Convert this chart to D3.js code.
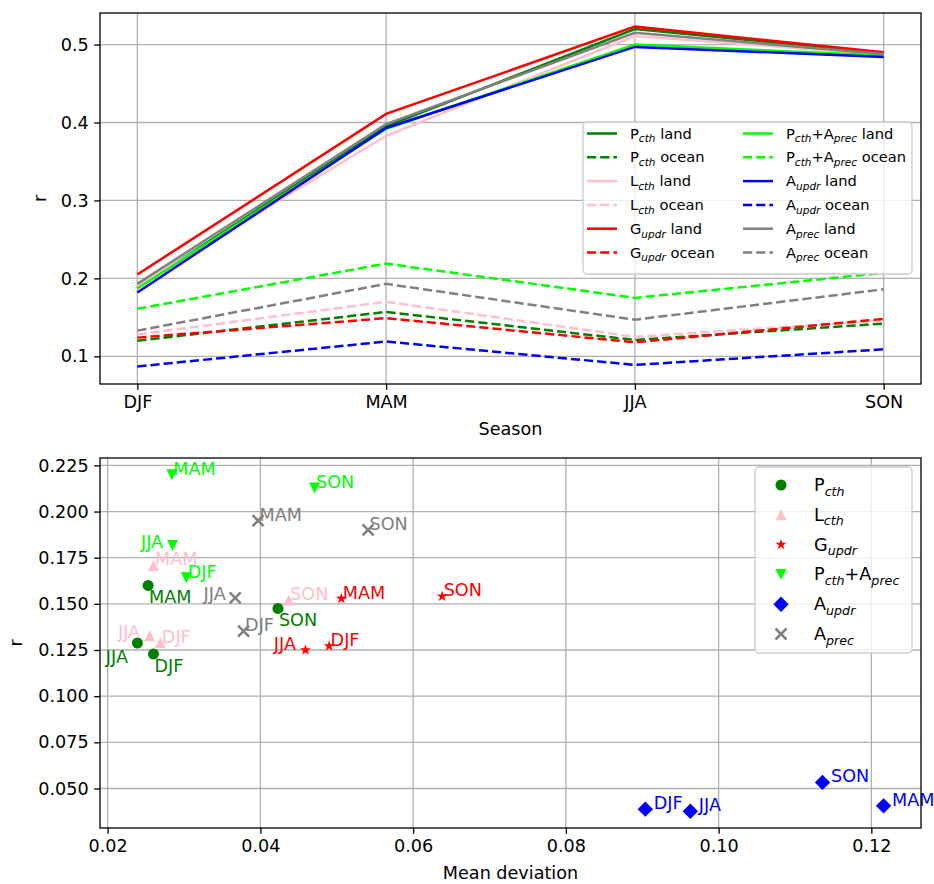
<!DOCTYPE html>
<html>
<head>
<meta charset="utf-8">
<script src="https://cdn.jsdelivr.net/npm/d3@7"></script>
<style>
  body { margin: 0; background: #fff; }
  text { font-family: "DejaVu Sans", sans-serif; fill: #000; }
</style>
</head>
<body>
<svg id="chart" width="934" height="884"></svg>
<script>
// ---- data ----
const seasons = ['DJF', 'MAM', 'JJA', 'SON'];
const methods = ['P_{cth}', 'L_{cth}', 'G_{updr}', 'P_{cth}+A_{prec}', 'A_{updr}', 'A_{prec}'];
const colors = ['green', 'pink', 'red', 'lime', 'blue', 'gray'];
const markers = ['circle', 'triUp', 'star', 'triDown', 'diamond', 'x'];

// correlation r per season (DJF, MAM, JJA, SON), one row per method
const landR = [
  [0.188, 0.395, 0.520, 0.489],
  [0.190, 0.383, 0.511, 0.487],
  [0.205, 0.411, 0.523, 0.490],
  [0.187, 0.392, 0.500, 0.486],
  [0.182, 0.393, 0.497, 0.484],
  [0.193, 0.398, 0.515, 0.488]
];
const oceanR = [
  [0.120, 0.157, 0.121, 0.142],
  [0.128, 0.170, 0.125, 0.146],
  [0.124, 0.149, 0.118, 0.148],
  [0.161, 0.219, 0.175, 0.207],
  [0.087, 0.119, 0.089, 0.109],
  [0.133, 0.193, 0.147, 0.186]
];

// scatter: mean deviation and r per season (DJF, MAM, JJA, SON)
const meanDev = [
  [0.0260, 0.0253, 0.0239, 0.0423],
  [0.0269, 0.0260, 0.0255, 0.0437],
  [0.0490, 0.0506, 0.0459, 0.0638],
  [0.0303, 0.0284, 0.0285, 0.0471],
  [0.0904, 0.1216, 0.0963, 0.1136],
  [0.0378, 0.0397, 0.0367, 0.0541]
];
const scatterR = [
  [0.1228, 0.1600, 0.1288, 0.1475],
  [0.1289, 0.1708, 0.1327, 0.1520],
  [0.1272, 0.1529, 0.1250, 0.1541],
  [0.1642, 0.2199, 0.1816, 0.2127],
  [0.0388, 0.0406, 0.0377, 0.0533],
  [0.1352, 0.1951, 0.1532, 0.1901]
];

// axis limits and ticks
const topYLim = [0.0645, 0.5405];
const topYTicks = [0.1, 0.2, 0.3, 0.4, 0.5];
const botXLim = [0.019, 0.1265];
const botYLim = [0.0286, 0.229];
const botXTicks = [0.02, 0.04, 0.06, 0.08, 0.10, 0.12];
const botYTicks = [0.05, 0.075, 0.1, 0.125, 0.15, 0.175, 0.2, 0.225];

// ---- setup ----
const FS = 17.6;
const svg = d3.select('#chart');
const lw = 2.5;

// write mathtext-like label: "P_{cth} land" -> P with italic subscript
function mathText(sel, str, size) {
  const parts = str.split(/_\{([^}]*)\}/);
  let shifted = false;
  parts.forEach((p, i) => {
    if (p === '') return;
    const t = sel.append('tspan').text(p);
    if (i % 2 === 1) {
      t.attr('font-size', size * 0.72).attr('font-style', 'italic')
        .attr('dy', shifted ? null : size * 0.26);
      shifted = true;
    } else {
      t.attr('font-size', size);
      if (shifted) { t.attr('dy', -size * 0.26); shifted = false; }
    }
  });
}

function markerPath(type, s) {
  const p = d3.path();
  if (type === 'circle') { p.arc(0, 0, s, 0, 2 * Math.PI); }
  else if (type === 'triUp') { p.moveTo(0, -s); p.lineTo(s, s); p.lineTo(-s, s); p.closePath(); }
  else if (type === 'triDown') { p.moveTo(0, s); p.lineTo(s, -s); p.lineTo(-s, -s); p.closePath(); }
  else if (type === 'diamond') { const d = s * 1.4; p.moveTo(0, -d); p.lineTo(d, 0); p.lineTo(0, d); p.lineTo(-d, 0); p.closePath(); }
  else if (type === 'star') {
    const ro = s * 1.05, ri = ro * 0.382;
    for (let k = 0; k < 10; k++) {
      const r = k % 2 ? ri : ro, a = -Math.PI / 2 + k * Math.PI / 5;
      k ? p.lineTo(r * Math.cos(a), r * Math.sin(a)) : p.moveTo(r * Math.cos(a), r * Math.sin(a));
    }
    p.closePath();
  }
  else if (type === 'x') { p.moveTo(-s, -s); p.lineTo(s, s); p.moveTo(-s, s); p.lineTo(s, -s); }
  return p.toString();
}

function drawMarker(g, type, color, x, y) {
  const path = g.append('path').attr('d', markerPath(type, 5.5))
    .attr('transform', `translate(${x},${y})`);
  if (type === 'x') path.attr('fill', 'none').attr('stroke', color).attr('stroke-width', 2.5);
  else path.attr('fill', color);
}

function frame(g, w, h) {
  g.append('rect').attr('width', w).attr('height', h)
    .attr('fill', 'none').attr('stroke', '#000').attr('stroke-width', 1.3);
}

// ---- top panel: r by season ----
const topBox = { left: 100, top: 13, width: 821, height: 371 };
const gTop = svg.append('g').attr('transform', `translate(${topBox.left},${topBox.top})`);

// point scale with matplotlib-like 5% margins
const xTop = d3.scalePoint().domain(seasons)
  .range([topBox.width * 0.15 / 3.3, topBox.width * 3.15 / 3.3]).padding(0);
const yTop = d3.scaleLinear().domain(topYLim).range([topBox.height, 0]);

// grid
gTop.append('g').selectAll('line').data(seasons).join('line')
  .attr('x1', d => xTop(d)).attr('x2', d => xTop(d)).attr('y1', 0).attr('y2', topBox.height)
  .attr('stroke', '#b0b0b0').attr('stroke-width', 1.3);
gTop.append('g').selectAll('line').data(topYTicks).join('line')
  .attr('x1', 0).attr('x2', topBox.width).attr('y1', d => yTop(d)).attr('y2', d => yTop(d))
  .attr('stroke', '#b0b0b0').attr('stroke-width', 1.3);

// axes
const xAxisTop = gTop.append('g').attr('transform', `translate(0,${topBox.height})`)
  .call(d3.axisBottom(xTop).tickSize(5.8).tickPadding(5.5));
const yAxisTop = gTop.append('g')
  .call(d3.axisLeft(yTop).tickValues(topYTicks).tickFormat(d3.format('.1f')).tickSize(5.8).tickPadding(5.5));

// lines
const line = d3.line().x((d, i) => xTop(seasons[i])).y(d => yTop(d));
methods.forEach((m, i) => {
  gTop.append('path').datum(landR[i]).attr('d', line)
    .attr('fill', 'none').attr('stroke', colors[i]).attr('stroke-width', lw);
  gTop.append('path').datum(oceanR[i]).attr('d', line)
    .attr('fill', 'none').attr('stroke', colors[i]).attr('stroke-width', lw)
    .attr('stroke-dasharray', '9.2,4');
});
frame(gTop, topBox.width, topBox.height);

// top legend
const legTop = gTop.append('g').attr('transform', `translate(${583 - topBox.left},${122 - topBox.top})`);
legTop.append('rect').attr('width', 329).attr('height', 152).attr('rx', 4)
  .attr('fill', 'rgba(255,255,255,0.8)').attr('stroke', '#cccccc').attr('stroke-width', 1.3);
const legItems = [];
methods.forEach((m, i) => {
  legItems.push({ label: m + ' land', color: colors[i], dash: null });
  legItems.push({ label: m + ' ocean', color: colors[i], dash: '9.2,4' });
});
legItems.forEach((d, k) => {
  const col = Math.floor(k / 6), row = k % 6;
  const gx = col === 0 ? 4 : 160, gy = 11.5 + row * 23.8;
  legTop.append('line').attr('x1', gx).attr('x2', gx + 30).attr('y1', gy).attr('y2', gy)
    .attr('stroke', d.color).attr('stroke-width', lw).attr('stroke-dasharray', d.dash);
  const t = legTop.append('text').attr('x', gx + 43).attr('y', gy + 5);
  mathText(t, d.label, FS * 0.833);
});

// labels
svg.append('text').attr('x', topBox.left + topBox.width / 2).attr('y', topBox.top + topBox.height + 51)
  .attr('text-anchor', 'middle').attr('font-size', FS).text('Season');
svg.append('text').attr('transform', `translate(46,${topBox.top + topBox.height / 2}) rotate(-90)`)
  .attr('text-anchor', 'middle').attr('font-size', FS).text('r');

// ---- bottom panel: scatter ----
const botBox = { left: 100, top: 458, width: 821, height: 370 };
const gBot = svg.append('g').attr('transform', `translate(${botBox.left},${botBox.top})`);
const xBot = d3.scaleLinear().domain(botXLim).range([0, botBox.width]);
const yBot = d3.scaleLinear().domain(botYLim).range([botBox.height, 0]);

gBot.append('g').selectAll('line').data(botXTicks).join('line')
  .attr('x1', d => xBot(d)).attr('x2', d => xBot(d)).attr('y1', 0).attr('y2', botBox.height)
  .attr('stroke', '#b0b0b0').attr('stroke-width', 1.3);
gBot.append('g').selectAll('line').data(botYTicks).join('line')
  .attr('x1', 0).attr('x2', botBox.width).attr('y1', d => yBot(d)).attr('y2', d => yBot(d))
  .attr('stroke', '#b0b0b0').attr('stroke-width', 1.3);

const xAxisBot = gBot.append('g').attr('transform', `translate(0,${botBox.height})`)
  .call(d3.axisBottom(xBot).tickValues(botXTicks).tickFormat(d3.format('.2f')).tickSize(5.8).tickPadding(5.5));
const yAxisBot = gBot.append('g')
  .call(d3.axisLeft(yBot).tickValues(botYTicks).tickFormat(d3.format('.3f')).tickSize(5.8).tickPadding(5.5));

// label offsets (px) for season annotations
function labelPos(i, season) {
  if (season === 'JJA' && i !== 4) {
    const dy = i === 0 ? 20 : (i === 2 ? 0 : 2);
    return { dx: -9.5, dy: dy, anchor: 'end' };
  }
  if (i === 0) return { dx: 1, dy: 18, anchor: 'start' };
  if (i === 4) return { dx: 8.5, dy: 0, anchor: 'start' };
  return { dx: 1.5, dy: 0, anchor: 'start' };
}

const gPts = gBot.append('g');
const gLbl = gBot.append('g');
methods.forEach((m, i) => {
  seasons.forEach((s, j) => {
    const px = xBot(meanDev[i][j]), py = yBot(scatterR[i][j]);
    drawMarker(gPts, markers[i], colors[i], px, py);
    const lp = labelPos(i, s);
    gLbl.append('text').attr('x', px + lp.dx).attr('y', py + lp.dy)
      .attr('text-anchor', lp.anchor).attr('font-size', FS)
      .style('fill', colors[i]).text(s);
  });
});
frame(gBot, botBox.width, botBox.height);

// bottom legend
const legBot = gBot.append('g').attr('transform', `translate(${755 - botBox.left},${467 - botBox.top})`);
legBot.append('rect').attr('width', 157).attr('height', 186).attr('rx', 4)
  .attr('fill', 'rgba(255,255,255,0.8)').attr('stroke', '#cccccc').attr('stroke-width', 1.3);
methods.forEach((m, i) => {
  const gy = 18 + i * 29.8;
  drawMarker(legBot, markers[i], colors[i], 26, gy);
  const t = legBot.append('text').attr('x', 59).attr('y', gy + 6);
  mathText(t, m, FS);
});

svg.append('text').attr('x', botBox.left + botBox.width / 2).attr('y', botBox.top + botBox.height + 51)
  .attr('text-anchor', 'middle').attr('font-size', FS).text('Mean deviation');
svg.append('text').attr('transform', `translate(22,${botBox.top + botBox.height / 2}) rotate(-90)`)
  .attr('text-anchor', 'middle').attr('font-size', FS).text('r');

// axis styling: matplotlib look
[xAxisTop, yAxisTop, xAxisBot, yAxisBot].forEach(a => {
  a.select('.domain').remove();
  a.selectAll('.tick line').attr('stroke', '#000').attr('stroke-width', 1.3);
  a.selectAll('.tick text').attr('font-size', FS).attr('font-family', '"DejaVu Sans", sans-serif');
});
</script>
</body>
</html>
